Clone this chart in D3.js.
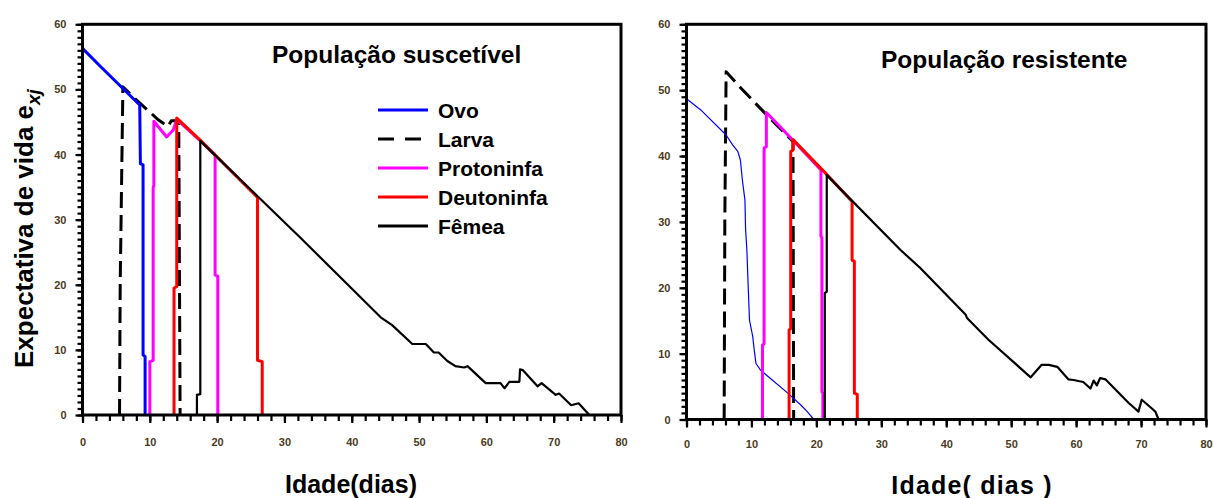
<!DOCTYPE html>
<html><head><meta charset="utf-8">
<script src="https://cdn.jsdelivr.net/npm/d3@7"></script>
<style>body{margin:0;background:#fff} svg{display:block}</style>
</head><body><svg id="c" width="1215" height="498"></svg>
<script>
const stages = ["Ovo","Larva","Protoninfa","Deutoninfa","Fêmea"];
const stageColors = ["#0000ff","#000000","#ff00ff","#ff0000","#000000"];
const xTicks = [0,10,20,30,40,50,60,70,80];
const yTicks = [0,10,20,30,40,50,60];
const panelTitles = ["População suscetível","População resistente"];
const xAxisTitles = ["Idade(dias)","Idade( dias )"];
const yAxisTitle = "Expectativa de vida e";
const yAxisSub = "xj";

// População suscetível  [idade, e_xj]
const ovoS = [[0,56.3],[2.6,53.6],[8.5,47.6],[8.6,38.6],[9.0,38.4],[9.0,9.2],[9.3,9.0],[9.3,0]];
const larvaS = [[5.5,0],[5.6,20],[6.0,50.4],[8,48.4],[11.3,45.3],[12.7,44.3],[13.2,45.2],[14.3,45.2],[14.5,0]];
const protoS = [[10.0,0],[10.0,8.2],[10.5,8.4],[10.5,35],[10.6,35.2],[10.6,45.1],[12.5,42.7],[13.5,43.8],[14.0,45.4],[17.6,42.0],[19.7,39.9],[19.7,21.5],[20.1,21.3],[20.1,0]];
const deutoS = [[13.6,0],[13.6,19.5],[14.0,19.7],[14.0,45.6],[17.6,42.1],[26.0,33.4],[26.0,8.4],[26.7,8.2],[26.7,0]];
const femeaS = [[17.0,0],[17.0,3.1],[17.5,3.2],[17.5,42.1],[30.8,28.8],[32.3,27.3],[44.3,15.0],[46.0,13.8],[49.0,10.9],[51.0,10.9],[52.2,9.6],[52.9,9.6],[54.2,8.3],[55.4,7.5],[56.7,7.3],[57.2,7.5],[59.9,4.9],[62.1,4.9],[62.7,4.1],[63.4,5.1],[64.9,5.1],[65.0,7.0],[65.4,6.9],[67.6,4.4],[68.2,4.9],[70.3,3.1],[70.8,3.3],[72.6,1.5],[73.7,1.8],[75.3,0]];

// População resistente
const ovoR = [[0,48.7],[2.2,47.0],[6.1,43.2],[7.1,41.7],[7.9,40.7],[8.3,39.4],[8.6,36.4],[9.0,33.3],[9.1,28.8],[9.3,25.7],[9.5,20.2],[9.7,15.1],[10.2,12.6],[10.4,10.8],[10.7,8.5],[11.4,7.5],[15.6,4.0],[17.6,2.2],[18.6,1.2],[19.6,0]];
const larvaR = [[5.8,0],[5.9,30],[6.1,52.8],[8.4,50.3],[11.9,46.7],[16.4,42.2],[16.5,0]];
const protoR = [[11.7,0],[11.7,11.3],[11.95,11.5],[11.95,41.2],[12.3,41.4],[12.3,46.6],[16.1,42.7],[20.7,37.9],[20.7,27.8],[20.85,27.6],[20.85,4.2],[21.0,4.0],[21.0,0]];
const deutoR = [[15.8,0],[15.8,13.6],[16.05,13.8],[16.05,40.7],[16.4,40.9],[16.4,42.5],[21.4,37.4],[25.5,33.1],[25.5,24.2],[25.85,24.0],[25.85,4.0],[26.3,3.8],[26.3,0]];
const femeaR = [[21.3,0],[21.3,19.2],[21.6,19.4],[21.6,37.1],[33.0,25.7],[36.0,23.0],[43.0,15.9],[43.2,15.4],[46.5,12.1],[51.4,7.8],[53.0,6.4],[54.7,8.3],[55.8,8.3],[57.1,8.0],[58.8,6.1],[59.6,6.0],[61.1,5.7],[62.2,4.7],[62.7,5.9],[63.2,5.2],[63.7,6.3],[64.5,6.1],[68.1,2.5],[69.6,1.2],[70.1,3.0],[71.4,1.9],[72.2,1.2],[72.7,0]];

const seriesS = [ovoS, larvaS, protoS, deutoS, femeaS];
const seriesR = [ovoR, larvaR, protoR, deutoR, femeaR];

const svg = d3.select("#c");
const FONT = "Liberation Sans, Arial, sans-serif";
const tickColor = "#4a3b22";

const panels = [
  {box:{l:82.5,r:621,t:24.3,b:415}, series:seriesS, widths:[3,3,3,3,2.2], xPad:15, title:{x:272,y:63}, xt:{x:351,y:493}, xtSpacing:0},
  {box:{l:686.5,r:1206,t:24.3,b:419.5}, series:seriesR, widths:[1.2,3,3,3,2.2], xPad:12.5, title:{x:881,y:68}, xt:{x:972,y:494}, xtSpacing:1.2}
];
const drawOrder = [1,0,2,3,4];

panels.forEach((p,pi)=>{
  const x = d3.scaleLinear().domain([0,80]).range([p.box.l,p.box.r]);
  const y = d3.scaleLinear().domain([0,60]).range([p.box.b,p.box.t]);
  const g = svg.append("g");
  const line = d3.line().x(d=>x(d[0])).y(d=>y(d[1]));

  drawOrder.forEach(i=>{
    g.append("path").datum(p.series[i])
      .attr("d",line).attr("fill","none")
      .attr("stroke",stageColors[i]).attr("stroke-width",p.widths[i])
      .attr("stroke-linejoin","round")
      .attr("stroke-dasharray", i===1 ? "16,7" : null);
  });

  // minor ticks
  g.append("g").attr("transform",`translate(${p.box.l},0)`)
    .call(d3.axisLeft(y).tickValues(d3.range(0,61,1)).tickSize(5).tickFormat(""))
    .call(a=>{a.select(".domain").remove(); a.selectAll("line").attr("stroke","#000").attr("stroke-width",2.2);});
  g.append("g").attr("transform",`translate(0,${p.box.b})`)
    .call(d3.axisBottom(x).tickValues(d3.range(0,81,2)).tickSize(6).tickFormat(""))
    .call(a=>{a.select(".domain").remove(); a.selectAll("line").attr("stroke","#000").attr("stroke-width",2.2);});
  // major ticks
  g.append("g").attr("transform",`translate(${p.box.l},0)`)
    .call(d3.axisLeft(y).tickValues(yTicks).tickSize(7).tickPadding(9))
    .call(a=>{a.select(".domain").remove(); a.selectAll("line").attr("stroke","#000").attr("stroke-width",2.2);
      a.selectAll("text").attr("font-family",FONT).attr("font-size",11).attr("font-weight","bold").attr("fill",tickColor);});
  g.append("g").attr("transform",`translate(0,${p.box.b})`)
    .call(d3.axisBottom(x).tickValues(xTicks).tickSize(8).tickPadding(p.xPad))
    .call(a=>{a.select(".domain").remove(); a.selectAll("line").attr("stroke","#000").attr("stroke-width",2.2);
      a.selectAll("text").attr("font-family",FONT).attr("font-size",11).attr("font-weight","bold").attr("fill",tickColor);});

  // frame
  g.append("rect").attr("x",p.box.l).attr("y",p.box.t)
    .attr("width",p.box.r-p.box.l).attr("height",p.box.b-p.box.t)
    .attr("fill","none").attr("stroke","#000").attr("stroke-width",3);

  g.append("text").attr("x",p.title.x).attr("y",p.title.y)
    .attr("font-family",FONT).attr("font-size",24.5).attr("font-weight","bold")
    .text(panelTitles[pi]);
  g.append("text").attr("x",p.xt.x).attr("y",p.xt.y).attr("text-anchor","middle")
    .attr("font-family",FONT).attr("font-size",25).attr("font-weight","bold")
    .attr("letter-spacing",p.xtSpacing)
    .text(xAxisTitles[pi]);
});

// legend
const lg = svg.append("g");
stages.forEach((s,i)=>{
  const yy = 110 + i*29;
  lg.append("line").attr("x1",378).attr("x2",428).attr("y1",yy).attr("y2",yy)
    .attr("stroke",stageColors[i]).attr("stroke-width",3)
    .attr("stroke-dasharray", i===1 ? "16,11" : null);
  lg.append("text").attr("x",438).attr("y",yy).attr("dy","0.36em")
    .attr("font-family",FONT).attr("font-size",21).attr("font-weight","bold")
    .text(s);
});

// y axis title
const yt = svg.append("text").attr("transform","translate(33,368) rotate(-90)")
  .attr("font-family",FONT).attr("font-size",26).attr("font-weight","bold");
yt.append("tspan").text(yAxisTitle);
yt.append("tspan").attr("font-size",19).attr("font-style","italic").attr("dy",7).text(yAxisSub);
</script></body></html>
